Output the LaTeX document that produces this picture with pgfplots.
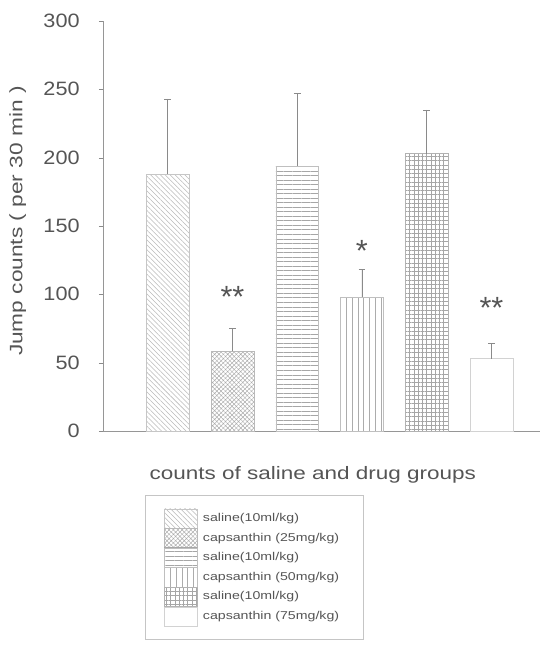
\documentclass[border=0pt]{standalone}
\usepackage{pgfplots}
\pgfplotsset{compat=1.18}
\usetikzlibrary{patterns,patterns.meta}
\usepackage{fontspec}
\setmainfont{Liberation Sans}
\definecolor{txt}{HTML}{555555}
\definecolor{ln}{HTML}{8A8A8A}
\newcommand{\sx}[2]{\scalebox{#1}[1]{#2}}
\begin{document}
\begin{tikzpicture}
\useasboundingbox (-77.25pt,-162pt) rectangle (327.75pt,323.25pt);
\begin{axis}[
  scale only axis, width=327.75pt, height=307.5pt,
  xmin=0, xmax=6.75, ymin=0, ymax=300,
  axis x line=bottom, axis y line=left,
  axis line style={-, ln!90, line width=0.5pt},
  xtick=\empty, ytick={0,50,...,300},
  tick align=outside, major tick length=3pt, tick style={ln},
  /pgf/number format/assume math mode=true,
  yticklabel={\sx{1.12}{\pgfmathprintnumber{\tick}}},
  yticklabel style={font=\fontsize{14.5}{14.5}\selectfont, color=txt, xshift=-11pt},
  ylabel={\sx{1.26}{Jump counts ( per 30 min )}},
  ylabel style={font=\fontsize{13.5}{13.5}\selectfont, color=txt, at={(axis description cs:-0.195,0.512)}, anchor=center},
  xlabel={\sx{1.25}{counts of saline and drug groups}},
  xlabel style={font=\fontsize{13.5}{13.5}\selectfont, color=txt, at={(axis description cs:0.48,-0.108)}, anchor=center},
  ybar, bar width=32pt,
  legend style={at={(axis description cs:0.096,-0.156)}, anchor=north west,
    draw=ln!50, line width=0.4pt, font=\fontsize{8.5}{8.5}\selectfont, text=txt,
    row sep=0pt, inner xsep=14pt, inner ysep=10pt, legend cell align=left,
    nodes={inner xsep=4pt}},
  legend image code/.code={\draw[#1] (0pt,-7.2pt) rectangle (25pt,7.2pt);},
  error bars/y dir=plus, error bars/y explicit,
  error bars/error bar style={ln, line width=0.4pt},
  error bars/error mark options={ln, mark size=2.5pt, line width=0.4pt, rotate=90},
]
\addplot[bar shift=0pt, draw=gray!45, line width=0.3pt, pattern={Lines[angle=-45,distance=2.6pt,line width=0.4pt]}, pattern color=gray!55]
  coordinates {(1,188) +- (0,55)};
\addlegendentry{\sx{1.25}{saline(10ml/kg)}}
\addplot[bar shift=0pt, draw=gray!55, line width=0.3pt, pattern={Hatch[angle=45,distance=2.3pt,line width=0.35pt]}, pattern color=gray!65]
  coordinates {(2,58.5) +- (0,16.5)};
\addlegendentry{\sx{1.25}{capsanthin (25mg/kg)}}
\addplot[bar shift=0pt, draw=gray!50, line width=0.3pt, pattern={Lines[angle=0,distance=3.4pt,line width=0.7pt]}, pattern color=gray!70]
  coordinates {(3,194) +- (0,53)};
\addlegendentry{\sx{1.25}{saline(10ml/kg)}}
\addplot[bar shift=0pt, draw=gray!50, line width=0.3pt, pattern={Lines[angle=90,distance=4.4pt,line width=0.45pt]}, pattern color=gray!65]
  coordinates {(4,98) +- (0,20.5)};
\addlegendentry{\sx{1.25}{capsanthin (50mg/kg)}}
\addplot[bar shift=0pt, draw=gray!60, line width=0.3pt, pattern={Hatch[angle=0,distance=3.2pt,line width=0.45pt]}, pattern color=gray!70]
  coordinates {(5,203) +- (0,32)};
\addlegendentry{\sx{1.25}{saline(10ml/kg)}}
\addplot[bar shift=0pt, draw=gray!35, line width=0.3pt, fill=white]
  coordinates {(6,53) +- (0,11)};
\addlegendentry{\sx{1.25}{capsanthin (75mg/kg)}}
\node[txt, font=\fontsize{23}{23}\selectfont] at (axis cs:2,98) {**};
\node[txt, font=\fontsize{23}{23}\selectfont] at (axis cs:4,132) {*};
\node[txt, font=\fontsize{23}{23}\selectfont] at (axis cs:6,90) {**};
\end{axis}
\end{tikzpicture}
\end{document}
